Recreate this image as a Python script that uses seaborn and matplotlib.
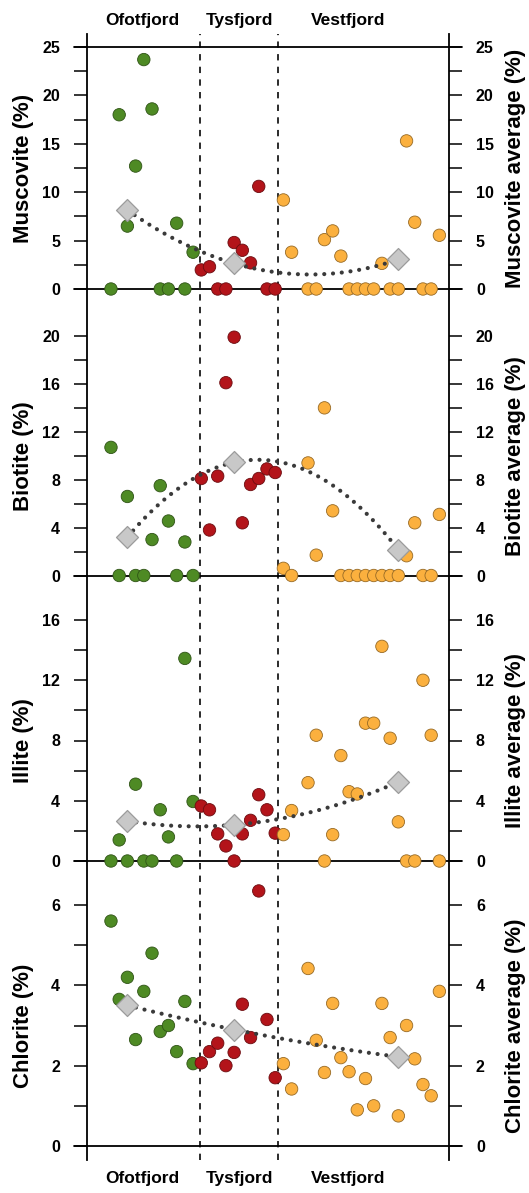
import numpy as np
import pandas as pd
import seaborn as sns
import matplotlib.pyplot as plt

sns.set_style("white")
plt.rcParams["font.family"] = ["Liberation Sans", "DejaVu Sans"]
plt.rcParams["font.weight"] = "bold"
plt.rcParams["text.color"] = "black"
plt.rcParams["axes.labelcolor"] = "black"
plt.rcParams["ytick.color"] = "black"

# --- data -------------------------------------------------------------
fjords = ["Ofotfjord", "Tysfjord", "Vestfjord"]
palette = {"Ofotfjord": "#4e8a24", "Tysfjord": "#b3141a", "Vestfjord": "#fbb03e"}

# sample positions along the transect (one slot is empty in Vestfjord)
ofot_pos = list(range(0, 11))
tys_pos = list(range(11, 21))
vest_pos = [21, 22] + list(range(24, 41))
avg_pos = [2, 15, 35]
boundaries = [10.85, 20.38]
label_pos = [3.8, 15.7, 28.9]

muscovite_ofot = [0, 18.0, 6.5, 12.7, 23.7, 18.6, 0, 0, 6.8, 0, 3.8]
muscovite_tys = [1.97, 2.3, 0, 0, 4.8, 4.0, 2.7, 10.6, 0, 0]
muscovite_vest = [9.2, 3.8, 0, 0, 5.1, 6.0, 3.4, 0, 0, 0, 0, 2.65, 0, 0,
                  15.3, 6.9, 0, 0, 5.55]
muscovite_avg = [8.15, 2.65, 3.05]

biotite_ofot = [10.7, 0, 6.6, 0, 0, 3.0, 7.5, 4.55, 0, 2.8, 0]
biotite_tys = [8.1, 3.8, 8.3, 16.1, 19.9, 4.4, 7.6, 8.1, 8.9, 8.6]
biotite_vest = [0.6, 0, 9.4, 1.7, 14.0, 5.4, 0, 0, 0, 0, 0, 0, 0, 0,
                1.65, 4.4, 0, 0, 5.1]
biotite_avg = [3.2, 9.45, 2.15]

illite_ofot = [0, 1.4, 0, 5.1, 0, 0, 3.4, 1.6, 0, 13.45, 3.95]
illite_tys = [3.65, 3.4, 1.8, 1.0, 0, 1.8, 2.7, 4.4, 3.4, 1.85]
illite_vest = [1.75, 3.35, 5.2, 8.35, 0, 1.75, 7.0, 4.6, 4.45, 9.15, 9.15,
               14.25, 8.15, 2.6, 0, 0, 12.0, 8.35, 0]
illite_avg = [2.65, 2.4, 5.25]

chlorite_ofot = [5.6, 3.65, 4.2, 2.65, 3.85, 4.8, 2.85, 3.0, 2.35, 3.6, 2.05]
chlorite_tys = [2.07, 2.35, 2.56, 2.0, 2.33, 3.53, 2.7, 6.35, 3.15, 1.7]
chlorite_vest = [2.05, 1.42, 4.42, 2.63, 1.83, 3.55, 2.2, 1.85, 0.9, 1.68,
                 1.0, 3.55, 2.7, 0.75, 3.0, 2.17, 1.53, 1.25, 3.85]
chlorite_avg = [3.5, 2.9, 2.22]

# name, values per fjord, averages, top labelled tick, major/minor step
panels = [
    ("Muscovite", [muscovite_ofot, muscovite_tys, muscovite_vest], muscovite_avg, 25, 5, 2.5),
    ("Biotite", [biotite_ofot, biotite_tys, biotite_vest], biotite_avg, 20, 4, 2),
    ("Illite", [illite_ofot, illite_tys, illite_vest], illite_avg, 16, 4, 2),
    ("Chlorite", [chlorite_ofot, chlorite_tys, chlorite_vest], chlorite_avg, 6, 2, 1),
]

# --- layout (pixels) ---------------------------------------------------
W, H = 529, 1193
XL, XR = 87, 449
TOP, BOTTOM = 34, 1160
zero_px = [289, 575.5, 861, 1146]
toptick_px = [47, 336, 620, 905]
xlim = (-2.92, 41.17)
tick_ext = 13 / (XR - XL)


def rect(x0, y0, x1, y1):
    return [x0 / W, 1 - y1 / H, (x1 - x0) / W, (y1 - y0) / H]


def darker(c, f=0.6):
    r, g, b, a = c
    return (r * f, g * f, b * f, 1)


fig = plt.figure(figsize=(W / 100, H / 100), dpi=100)

# frame: outer verticals, fjord boundaries and fjord names
frame = fig.add_axes(rect(XL, TOP, XR, BOTTOM))
frame.set_xlim(xlim)
frame.set_ylim(0, 1)
frame.set_xticks([])
frame.set_yticks([])
frame.patch.set_alpha(0)
for side in ["top", "bottom"]:
    frame.spines[side].set_visible(False)
for side in ["left", "right"]:
    frame.spines[side].set_linewidth(1.3)
    frame.spines[side].set_color("black")
for b in boundaries:
    frame.axvline(b, color="#1a1a1a", lw=1.3, ls=(0, (3.5, 3.5)))
span = BOTTOM - TOP
for name, xp in zip(fjords, label_pos):
    for yy in [1 + (TOP - 21) / span, -(1179 - BOTTOM) / span]:
        frame.text(xp, yy, name, transform=frame.get_xaxis_transform(),
                   ha="center", va="center", fontsize=12.5, clip_on=False)

# mineral panels
ax_top = TOP
for i, (name, vals, avg, top_val, major, minor) in enumerate(panels):
    ppu = (zero_px[i] - toptick_px[i]) / top_val
    ylim_top = (zero_px[i] - ax_top) / ppu
    ax = fig.add_axes(rect(XL, ax_top, XR, zero_px[i]))
    ax_top = zero_px[i]

    df = pd.DataFrame({
        "pos": ofot_pos + tys_pos + vest_pos,
        "value": vals[0] + vals[1] + vals[2],
        "fjord": ["Ofotfjord"] * len(vals[0]) + ["Tysfjord"] * len(vals[1])
                 + ["Vestfjord"] * len(vals[2]),
    })

    ax.axhline(0, xmin=-tick_ext, xmax=1 + tick_ext, color="black", lw=1.3,
               clip_on=False, zorder=1)
    if i == 0:
        ax.axhline(top_val, xmin=-tick_ext, xmax=1 + tick_ext, color="black",
                   lw=1.3, clip_on=False, zorder=1)

    sns.scatterplot(data=df, x="pos", y="value", hue="fjord", hue_order=fjords,
                    palette=palette, s=80, linewidth=0.6, legend=False,
                    ax=ax, zorder=3)
    pts = ax.collections[-1]
    pts.set_edgecolor([darker(c) for c in pts.get_facecolors()])
    pts.set_clip_on(False)

    sns.regplot(x=avg_pos, y=avg, order=2, ci=None, scatter=False,
                truncate=True, ax=ax, color="#3a3a3a",
                line_kws=dict(lw=3.0, ls=(0, (0.01, 2.1)),
                              dash_capstyle="round", zorder=4))

    sns.scatterplot(x=avg_pos, y=avg, marker="D", s=125, color="#c8c8c8",
                    edgecolor="#9c9c9c", linewidth=0.9, ax=ax, zorder=5)
    ax.collections[-1].set_clip_on(False)

    ax.set_xlim(xlim)
    ax.set_ylim(0, ylim_top)
    ax.set_yticks(np.arange(0, top_val + 0.01, major))
    ax.set_yticks(np.arange(minor, top_val, major), minor=True)
    ax.tick_params(axis="y", which="both", direction="out", left=True,
                   right=True, labelleft=True, labelright=True, length=9.4,
                   width=1.1, pad=10, labelsize=11.5, colors="black")
    ax.tick_params(axis="x", bottom=False, labelbottom=False)
    for s in ax.spines.values():
        s.set_visible(False)
    ax.patch.set_alpha(0)
    ax.set_xlabel("")

    ymid = (top_val / 2) / ylim_top
    ax.set_ylabel(f"{name} (%)", fontsize=16, fontweight="bold")
    ax.yaxis.set_label_coords((24 - XL) / (XR - XL), ymid)
    ax.yaxis.label.set_verticalalignment("center")
    ax.text((516 - XL) / (XR - XL), ymid, f"{name} average (%)",
            transform=ax.transAxes, rotation=90, rotation_mode="anchor",
            ha="center", va="center", fontsize=16, clip_on=False)

fig.savefig("out.png", dpi=100)
